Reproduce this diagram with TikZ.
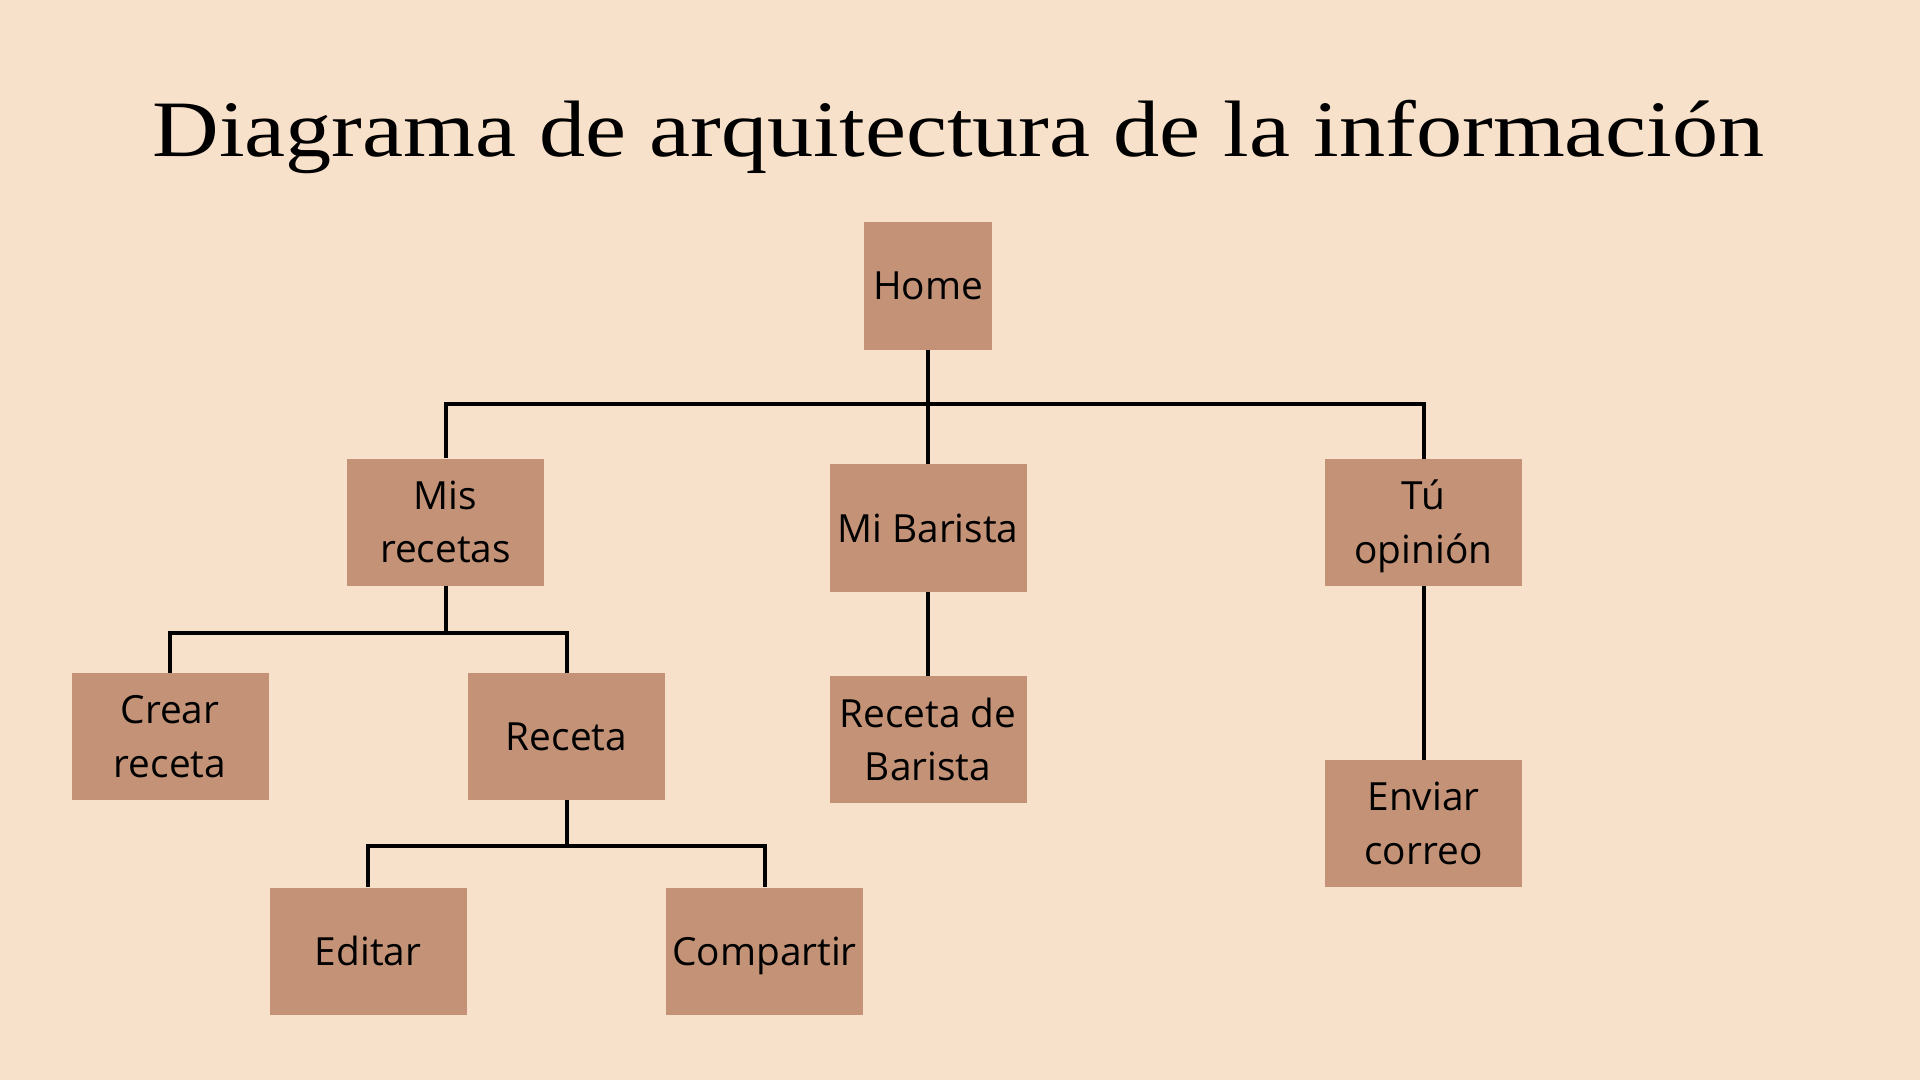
\documentclass[tikz,border=0pt]{standalone}
\usepackage{fontspec}
\setmainfont{Open Sans}
\newfontfamily\titlefont{Liberation Serif}
\definecolor{bgc}{HTML}{F8E1CA}
\definecolor{boxc}{HTML}{C39277}
\begin{document}
\begin{tikzpicture}[x=1pt,y=-1pt,
  box/.style={fill=boxc, draw=none, minimum width=197pt, minimum height=127pt, inner sep=0pt,
    align=center, text=black, font=\fontsize{38.8}{53.6}\selectfont},
  conn/.style={draw=black, line width=4pt, line join=miter}]
\fill[bgc] (0,0) rectangle (1920,1080);
\useasboundingbox (0,0) rectangle (1920,1080);
\node[anchor=base, inner sep=0pt, font=\titlefont\fontsize{80}{90}\selectfont] (title) at (958.5,156)
  {\resizebox{1612pt}{\height}{Diagrama de arquitectura de la información}};
\node[box, minimum width=128pt, minimum height=128pt] (home) at (928,286) {Home};
\node[box] (mis) at (445.5,522) {Mis\\recetas};
\node[box, minimum height=128pt] (mb) at (928,528) {Mi Barista};
\node[box] (tu) at (1423.5,522.5) {\smash{Tú}\vphantom{Mis}\\\raisebox{0pt}[\height][0pt]{opinión}};
\node[box] (crear) at (170,736.5) {Crear\\receta};
\node[box] (receta) at (566.5,736.5) {Receta};
\node[box] (rb) at (928,739.5) {Receta de\\Barista};
\node[box] (env) at (1423.5,823.5) {Enviar\\correo};
\node[box] (editar) at (368,951) {Editar};
\node[box, text depth=0pt] (comp) at (764.5,951) {Compartir};
\coordinate (bus) at (928,404);
\coordinate (b2) at (445.5,633);
\coordinate (b3) at (566.5,846);
\draw[conn] (mis.north) -- (mis.north |- bus) -- (tu.north |- bus) -- (tu.north);
\draw[conn] (home.south) -- (mb.north);
\draw[conn] (mb.south) -- (rb.north);
\draw[conn] (tu.south) -- (env.north);
\draw[conn] (crear.north) -- (crear.north |- b2) -- (receta.north |- b2) -- (receta.north);
\draw[conn] (mis.south) -- (mis.south |- b2);
\draw[conn] (editar.north) -- (editar.north |- b3) -- (comp.north |- b3) -- (comp.north);
\draw[conn] (receta.south) -- (receta.south |- b3);
\end{tikzpicture}
\end{document}
